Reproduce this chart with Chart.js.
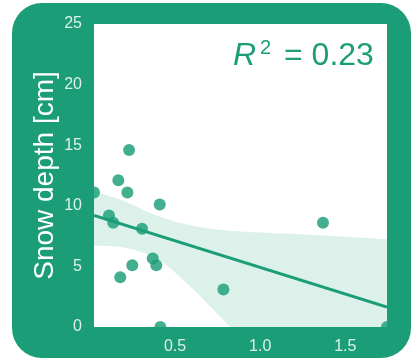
<!DOCTYPE html>
<html>
<head>
<meta charset="utf-8">
<script src="https://cdn.jsdelivr.net/npm/chart.js@4/dist/chart.umd.min.js"></script>
<style>
  html, body { margin: 0; padding: 0; background: #ffffff; }
  canvas { display: block; }
</style>
</head>
<body>
<canvas id="c" width="411" height="361"></canvas>
<script>
// Observations: x value and snow depth (cm)
const obsX = [0.024, 0.112, 0.137, 0.167, 0.178, 0.22, 0.23, 0.249, 0.306, 0.369, 0.39, 0.41, 0.414, 0.784, 1.369, 1.745];
const obsY = [11.1, 9.2, 8.6, 12.1, 4.1, 11.1, 14.6, 5.1, 8.1, 5.65, 5.1, 10.1, 0, 3.1, 8.6, 0];

// Fitted regression line
const fitX = [0.024, 1.745];
const fitY = [9.2, 1.65];

// Confidence band around the fit
const bandX = [0.024, 0.2, 0.4, 0.6, 0.82, 1.0, 1.35, 1.745];
const bandUpper = [11.2, 10.4, 9.15, 8.35, 7.95, 7.8, 7.58, 7.25];
const bandLower = [6.7, 6.55, 5.6, 3.2, 0.05, -2.5, -7.5, -13];

// Axis ticks
const xTickValues = [0.5, 1.0, 1.5];
const xTickLabels = ['0.5', '1.0', '1.5'];
const yTickValues = [0, 5, 10, 15, 20, 25];
const yTickLabels = ['0', '5', '10', '15', '20', '25'];

const rSquaredText = '0.23';

const GREEN = '#1b9e77';
const FONT = "'Liberation Sans', Arial, sans-serif";

const toPoints = (xs, ys) => xs.map((x, i) => ({ x: x, y: ys[i] }));

// Rounded green panel with a white plotting area
const panelPlugin = {
  id: 'panel',
  beforeDraw(chart) {
    const ctx = chart.ctx;
    const a = chart.chartArea;
    ctx.save();
    ctx.fillStyle = GREEN;
    ctx.beginPath();
    ctx.roundRect(12, 3, 399, 355, 30);
    ctx.fill();
    ctx.fillStyle = '#ffffff';
    ctx.fillRect(a.left, a.top, a.right - a.left, a.bottom - a.top);
    ctx.restore();
  }
};

// R² annotation in the upper right of the plot
const r2Plugin = {
  id: 'r2',
  afterDraw(chart) {
    const ctx = chart.ctx;
    ctx.save();
    ctx.fillStyle = GREEN;
    ctx.textBaseline = 'alphabetic';
    ctx.textAlign = 'left';
    ctx.font = 'italic 32px ' + FONT;
    ctx.fillText('R', 233, 65);
    ctx.font = '20px ' + FONT;
    ctx.fillText('2', 260, 54);
    ctx.font = '32px ' + FONT;
    ctx.fillText('= ' + rSquaredText, 284, 65);
    ctx.restore();
  }
};

new Chart(document.getElementById('c'), {
  type: 'scatter',
  data: {
    datasets: [
      {
        data: toPoints(obsX, obsY),
        backgroundColor: 'rgba(27,158,119,0.82)',
        borderWidth: 0,
        pointRadius: 6,
        pointHoverRadius: 6,
        clip: 0,
        order: 0
      },
      {
        type: 'line',
        data: toPoints(fitX, fitY),
        borderColor: GREEN,
        borderWidth: 3,
        pointRadius: 0,
        fill: false,
        clip: 0,
        order: 1
      },
      {
        type: 'line',
        data: toPoints(bandX, bandLower),
        borderWidth: 0,
        borderColor: 'rgba(0,0,0,0)',
        pointRadius: 0,
        tension: 0.3,
        fill: false,
        clip: 0,
        order: 3
      },
      {
        type: 'line',
        data: toPoints(bandX, bandUpper),
        borderWidth: 0,
        borderColor: 'rgba(0,0,0,0)',
        backgroundColor: 'rgba(27,158,119,0.15)',
        pointRadius: 0,
        tension: 0.3,
        fill: '-1',
        clip: 0,
        order: 2
      }
    ]
  },
  options: {
    responsive: false,
    animation: false,
    events: [],
    layout: { padding: { left: 0, top: 24, right: 24, bottom: 0 } },
    plugins: {
      legend: { display: false },
      tooltip: { enabled: false }
    },
    scales: {
      x: {
        type: 'linear',
        min: obsX[0],
        max: obsX[obsX.length - 1],
        grid: { display: false, drawTicks: false },
        border: { display: false },
        afterFit(scale) { scale.height = 34; },
        afterBuildTicks(scale) { scale.ticks = xTickValues.map(v => ({ value: v })); },
        ticks: {
          color: 'rgba(255,255,255,0.85)',
          font: { family: FONT, size: 16 },
          padding: 10,
          maxRotation: 0,
          callback: (v, i) => xTickLabels[i]
        }
      },
      y: {
        min: 0,
        max: 25,
        grid: { display: false, drawTicks: false },
        border: { display: false },
        afterFit(scale) { scale.width = 94; },
        afterBuildTicks(scale) { scale.ticks = yTickValues.map(v => ({ value: v })); },
        ticks: {
          color: 'rgba(255,255,255,0.85)',
          font: { family: FONT, size: 16 },
          padding: 12,
          callback: (v, i) => yTickLabels[i]
        },
        title: {
          display: true,
          text: 'Snow depth [cm]',
          color: '#ffffff',
          font: { family: FONT, size: 28 },
          padding: { top: 28, bottom: 0 }
        }
      }
    }
  },
  plugins: [panelPlugin, r2Plugin]
});
</script>
</body>
</html>
